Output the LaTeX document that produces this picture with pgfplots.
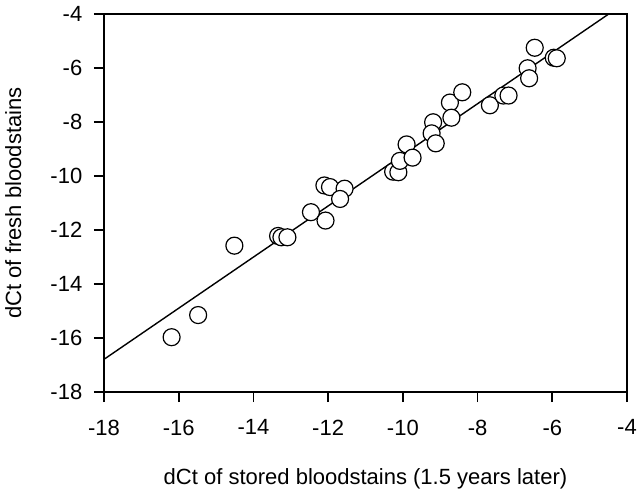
\documentclass[border=0pt]{standalone}
\usepackage{fontspec}
\setmainfont{Liberation Sans}
\usepackage{pgfplots}
\pgfplotsset{compat=1.18}

\pgfplotstableread{
x y
-14.51 -12.58
-13.34 -12.22
-13.25 -12.27
-13.09 -12.27
-12.46 -11.34
-12.07 -11.65
-12.10 -10.35
-11.95 -10.41
-11.56 -10.47
-11.68 -10.85
-10.26 -9.84
-10.12 -9.86
-10.08 -9.44
-9.90 -8.83
-9.74 -9.32
-9.19 -8.01
-9.23 -8.42
-9.12 -8.79
-8.74 -7.28
-8.70 -7.84
-8.41 -6.90
-7.67 -7.38
-7.31 -7.02
-7.17 -7.02
-6.47 -5.25
-6.66 -6.01
-6.62 -6.38
-5.96 -5.62
-5.88 -5.64
-15.48 -15.15
-16.19 -15.97
}\stains

\begin{document}
\fontsize{11}{13}\selectfont
\begin{tikzpicture}
\useasboundingbox (-52pt,-51pt) rectangle (270pt,196pt);
\begin{axis}[
    scale only axis,
    width=261.5pt, height=189pt,
    xmin=-18, xmax=-4, ymin=-18, ymax=-4,
    xtick={-18,-16,...,-4}, ytick={-18,-16,...,-4},
    tick align=outside, tick pos=left,
    major tick length=5pt,
    axis line style={line width=0.85pt},
    every tick/.style={black, line width=0.85pt},
    /pgf/number format/assume math mode=true,
    xticklabel style={yshift=-5pt},
    yticklabel style={xshift=-2pt},
    ticklabel style={font=\fontsize{11}{13}\selectfont},
    label style={font=\fontsize{11}{13}\selectfont},
    xlabel={dCt of stored bloodstains (1.5 years later)},
    ylabel={dCt of fresh bloodstains},
    xlabel style={yshift=-9pt},
    ylabel style={yshift=7pt},
    clip=true,
]
\addplot[black, line width=0.7pt, no marks] coordinates {(-18,-16.79) (-4.5,-4.01)};
\addplot[only marks, mark=*, mark size=4.25pt,
         mark options={fill=white, draw=black, line width=0.6pt}] table {\stains};
\end{axis}
\end{tikzpicture}
\end{document}
